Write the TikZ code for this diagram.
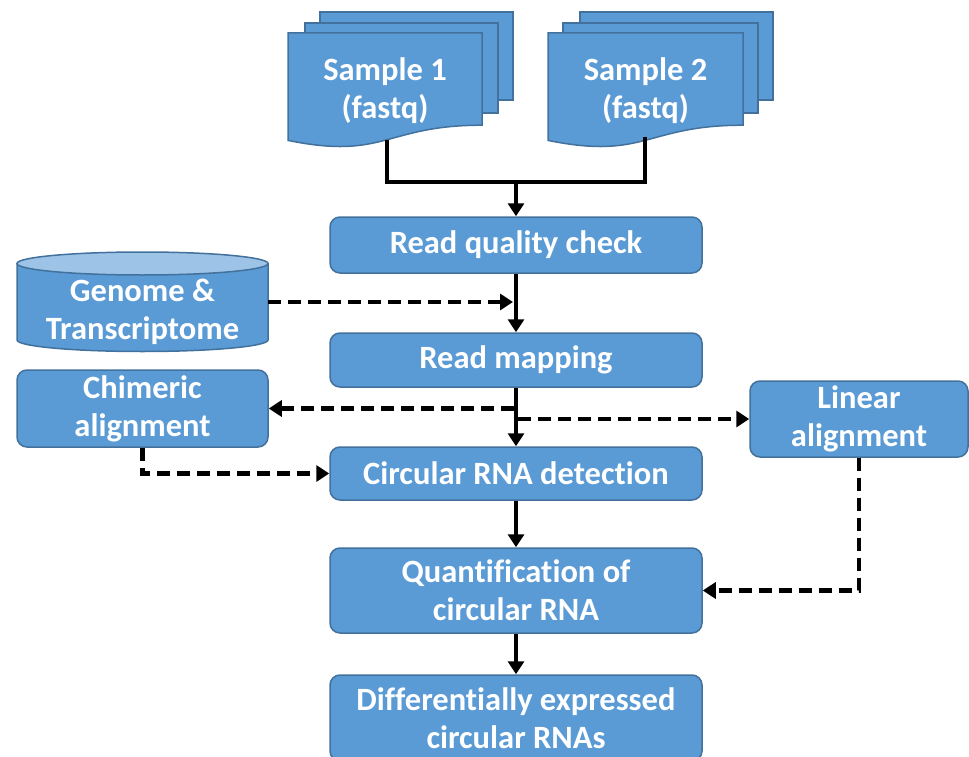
\documentclass[tikz,border=0pt]{standalone}
\usepackage{fontspec}
\setmainfont{Carlito}[Ligatures={NoCommon}]
\usetikzlibrary{arrows.meta,calc}
\definecolor{boxfill}{HTML}{5B9BD5}
\definecolor{boxline}{HTML}{41719C}
\definecolor{toplight}{HTML}{9DC3E6}
\begin{document}
\begin{tikzpicture}[x=1pt,y=-1pt,
  txt/.style={text=white,font=\fontsize{32.5}{38}\selectfont\bfseries,align=center,inner sep=0pt},
  stepbox/.style={draw=boxline,line width=1.5pt,fill=boxfill,rounded corners=10pt,text=white,
     font=\fontsize{32.5}{38}\selectfont\bfseries,align=center,minimum width=372pt,inner sep=0pt},
  sidebox/.style={stepbox,minimum width=251pt,minimum height=77pt},
  page/.style={draw=boxline,line width=1.5pt,fill=boxfill},
  sline/.style={line width=4pt,black},
  sarrow/.style={sline,-{Triangle[length=13pt,width=16pt]}},
  dline/.style={line width=4.5pt,black,dash pattern=on 13pt off 7pt,-{Triangle[length=13pt,width=16pt]}}
]
\useasboundingbox (0,0) rectangle (969,757);
% Sample 1 pages
\path[page] (320,12) rectangle (513,100);
\path[page] (305,23) rectangle (498,113);
\path[page] (288,33) -- (482,33) -- (482,125.2) .. controls (385,125.2) and (385,160.3) .. (288,140.4) -- cycle;
\node[txt] (s1) at (385,91) {Sample 1\\(fastq)};
\coordinate (s1b) at (387,140);
% Sample 2 pages
\path[page] (580,12) rectangle (773,100);
\path[page] (563,23) rectangle (758,113);
\path[page] (548,33) -- (743,33) -- (743,125.2) .. controls (645.5,125.2) and (645.5,160.3) .. (548,140.4) -- cycle;
\node[txt] (s2) at (645.5,91) {Sample 2\\(fastq)};
\coordinate (s2b) at (645,137);
% Genome cylinder
\path[page] (17,263.5) -- (17,340) arc[start angle=180,end angle=360,x radius=125.5pt,y radius=11.5pt] -- (268,263.5) -- cycle;
\draw[draw=boxline,line width=1.5pt,fill=toplight] (142.5,263.5) ellipse[x radius=125.5pt,y radius=11.5pt];
\node[txt] (g) at (142.5,312) {Genome \&\\Transcriptome};
\coordinate (ge) at (268,302);
% main boxes
\node[stepbox,minimum height=56pt] (q) at (516,245) {Read quality check};
\node[stepbox,minimum height=54pt] (m) at (516,360) {Read mapping};
\node[stepbox,minimum height=53pt] (c) at (516,473.5) {Circular RNA detection};
\node[stepbox,minimum height=85pt] (qt) at (516,590.5) {Quantification of\\circular RNA};
\node[stepbox,minimum height=86pt] (d) at (516,718) {Differentially expressed\\circular RNAs};
\node[sidebox] (ch) at (142.5,408.5) {Chimeric\\alignment};
\node[sidebox,minimum width=218pt,minimum height=76pt] (lin) at (859,419) {Linear\\alignment};
% solid connectors
\coordinate (j) at (516,182);
\draw[sline] (s1b) |- (j) -| (s2b);
\draw[sarrow] (j) -- (q.north);
\draw[sarrow] (q.south) -- (m.north);
\draw[sarrow] (m.south) -- (c.north);
\draw[sarrow] (c.south) -- (qt.north);
\draw[sarrow] (qt.south) -- (d.north);
% dashed connectors
\draw[dline,shorten >=3pt] (ge) -- (ge -| q.south);
\draw[dline,shorten <=2pt] (ch.east -| m.south) -- (ch.east);
\draw[dline,shorten <=2pt] (lin.west -| m.south) -- (lin.west);
\draw[dline] (ch.south) |- (c.west);
\draw[dline] (lin.south) |- (qt.east);
\end{tikzpicture}
\end{document}
